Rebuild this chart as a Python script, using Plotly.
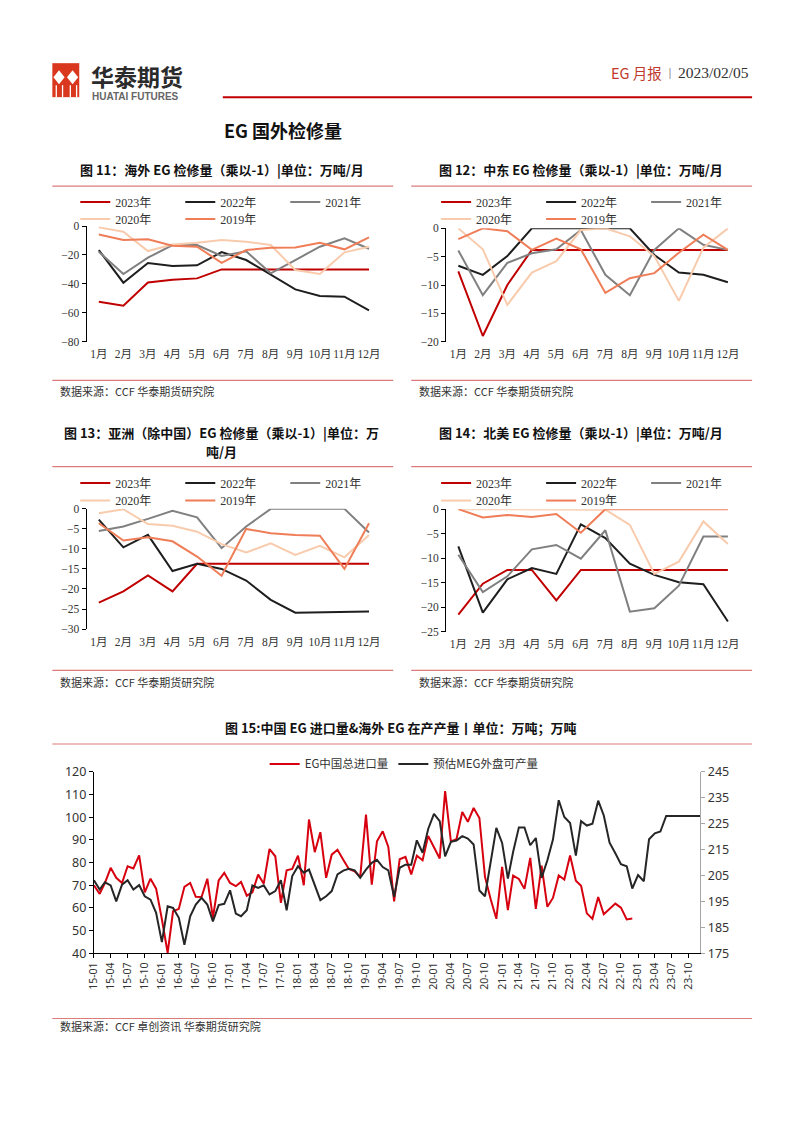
import plotly.graph_objects as go

# page is 802x1133; the html body adds a margin around the figure, so the figure
# is drawn slightly smaller and page coordinates are mapped onto it.
PAGE_W, PAGE_H = 802, 1133
OFF = 8
W, H = PAGE_W - 2 * OFF, PAGE_H - 2 * OFF


def X(px):
    return ((px - 5.6) / 0.993 - OFF) / W


def Y(py):
    return 1 - ((py - 8.9) / 0.9855 - OFF) / H


# ---------------- data ----------------
months = ["1月", "2月", "3月", "4月", "5月", "6月", "7月", "8月", "9月", "10月", "11月", "12月"]
month_idx = [0, 1, 2, 3, 4, 5, 6, 7, 8, 9, 10, 11]
years = ["2023年", "2022年", "2021年", "2020年", "2019年"]

# 图11 海外
os_2023 = [-52.3, -55.1, -39.0, -37.1, -36.2, -30.0, -30.0, -30.0, -30.0, -30.0, -30.0, -30.0]
os_2022 = [-16.6, -39.2, -25.6, -27.7, -27.2, -18.0, -23.5, -33.9, -43.8, -48.4, -48.9, -58.3]
os_2021 = [-17.8, -33.2, -21.9, -13.1, -13.1, -20.7, -17.5, -32.7, -23.5, -14.3, -8.5, -15.7]
os_2020 = [-0.9, -3.9, -17.3, -12.7, -11.5, -9.7, -10.8, -13.1, -30.4, -33.2, -18.2, -14.3]
os_2019 = [-5.8, -9.7, -9.2, -13.6, -14.3, -25.4, -16.6, -15.0, -14.8, -11.5, -16.1, -7.8]

# 图12 中东
me_2023 = [-7.6, -19.0, -10.0, -3.8, -3.8, -3.8, -3.8, -3.8, -3.8, -3.8, -3.8, -3.8]
me_2022 = [-6.6, -8.2, -4.9, 0.0, 0.0, 0.0, 0.0, 0.0, -4.7, -7.8, -8.2, -9.5]
me_2021 = [-3.9, -11.8, -6.1, -4.4, -3.7, -0.3, -8.2, -11.8, -3.8, 0.0, -2.9, -3.8]
me_2020 = [0.0, -3.7, -13.5, -7.8, -5.8, -0.3, 0.0, -1.4, -4.9, -12.8, -3.4, 0.0]
me_2019 = [-1.9, 0.0, -0.5, -3.8, -1.8, -3.7, -11.4, -8.8, -7.9, -4.3, -1.1, -3.8]

# 图13 亚洲（除中国）
as_2023 = [-23.4, -20.6, -16.6, -20.6, -13.7, -13.7, -13.7, -13.7, -13.7, -13.7, -13.7, -13.7]
as_2022 = [-2.7, -9.6, -6.5, -15.5, -13.7, -15.0, -17.9, -22.7, -25.9, -25.8, -25.7, -25.6]
as_2021 = [-5.5, -4.4, -2.5, -0.5, -2.1, -9.8, -4.4, 0.0, 0.0, 0.0, 0.0, -5.9]
as_2020 = [-1.1, -0.1, -3.8, -4.2, -5.7, -8.8, -10.9, -8.6, -11.5, -9.2, -12.1, -6.5]
as_2019 = [-3.6, -7.9, -7.1, -8.1, -11.9, -16.7, -5.0, -6.1, -6.5, -6.7, -15.0, -3.6]

# 图14 北美
na_2023 = [-21.5, -15.2, -12.4, -12.4, -18.6, -12.4, -12.4, -12.4, -12.4, -12.4, -12.4, -12.4]
na_2022 = [-7.6, -21.1, -14.3, -12.0, -13.2, -3.1, -5.9, -11.1, -13.4, -14.9, -15.3, -22.9]
na_2021 = [-9.3, -16.9, -13.7, -8.2, -7.3, -10.1, -4.3, -20.9, -20.2, -15.6, -5.6, -5.6]
na_2020 = [0.0, 0.0, 0.0, 0.0, 0.0, 0.0, -0.1, -3.2, -13.2, -10.7, -2.5, -7.1]
na_2019 = [0.0, -1.7, -1.2, -1.6, -1.0, -4.8, 0.0, 0.0, 0.0, 0.0, 0.0, 0.0]

# 图15 月度
dates_all = [f"{y}-{m:02d}-01" for y in range(2015, 2024) for m in range(1, 13)]
cn_import = [
    70, 66.2, 71, 77.7, 73.3, 71, 78.4, 77.4, 83.2, 66.9,
    72.9, 68.5, 55, 40.2, 58.5, 59.6, 69.3, 71, 64.9, 64.8,
    72.9, 55.6, 72.1, 75.5, 71, 69.6, 71.5, 65.4, 66.9, 74.7,
    70.7, 86, 82.8, 62.2, 76.6, 77.2, 83.1, 70, 99, 84.6,
    93.4, 73.3, 83.5, 85.7, 81.3, 77.2, 76.2, 73.7, 101.2, 70.3,
    89.4, 93.8, 86.9, 62.9, 81.5, 82.5, 74.8, 83, 81, 91.8,
    86.8, 81.8, 111.6, 89.3, 90.3, 102.3, 98, 104.1, 99.7, 73.7,
    63.7, 55.2, 78.1, 59, 74.3, 72.8, 68.4, 82.1, 59.6, 78.7,
    60.5, 64.4, 74.3, 72.5, 83.1, 72, 69.8, 57.6, 55.2, 64.8,
    57.2, 59.7, 61.9, 60.1, 54.9, 55.3,
]
meg_overseas = [
    203.2, 199.6, 202.4, 201.2, 195.0, 201.5, 203.2, 199.6, 201.3, 197.0,
    195.7, 190.6, 179.3, 193.1, 192.5, 188.7, 178.3, 189.3, 193.8, 196.4,
    193.8, 187.3, 193.6, 194.1, 199.3, 190.3, 189.3, 191.6, 201.2,
    200.2, 201.2, 197.7, 199.0, 203.2, 191.6, 204.8, 208.6, 206.1, 207.3,
    201.2, 195.5, 197.0, 199.0, 205.4, 206.9, 207.6, 207.0, 204.1, 207.3,
    209.9, 211.1, 208.3, 207.0, 196.8,
    208.0, 209.2, 209.2, 218.6, 213.8, 223.0,
    228.8, 226.0, 212.4, 218.0, 218.5, 220.2, 219.3, 217.0, 199.2, 197.0,
    210.5, 223.4, 217.6, 203.8, 214.1, 223.6, 223.6, 216.7, 219.5, 204.1,
    210.9, 218.9, 234.1, 227.6, 225.3, 212.7, 226.0, 224.3, 225.0, 233.9,
    228.2,
    217.7, 213.6, 209.4, 208.6, 200.0, 205.2, 202.8, 219.0, 221.3, 222.0,
    228.0, 228.0, 228.0, 228.0, 228.0, 228.0, 228.0,
]
import_name = "EG中国总进口量"
meg_name = "预估MEG外盘可产量"

# ---------------- styles ----------------
year_colors = ["#C00000", "#1E1E1E", "#808080", "#F8CBAD", "#EF7D57"]
SERIF = "Liberation Serif, Noto Sans CJK SC, serif"
SANS = "Noto Sans, Noto Sans CJK SC, sans-serif"
CJK = "Noto Sans CJK SC, sans-serif"
SEP = "#DB7B7B"
TXT = "#333333"

fig = go.Figure()

small_charts = [
    ([os_2023, os_2022, os_2021, os_2020, os_2019], "x", "y", "xaxis6", (84.3, 380), (226.0, 341.7), -80, 20,
     ("legend", "legend2"), (73, 202, 219)),
    ([me_2023, me_2022, me_2021, me_2020, me_2019], "x2", "y2", "xaxis7", (445, 740), (228.3, 341.7), -20, 5,
     ("legend3", "legend4"), (435, 202, 219)),
    ([as_2023, as_2022, as_2021, as_2020, as_2019], "x3", "y3", "xaxis8", (84.3, 380), (509.0, 629.3), -30, 5,
     ("legend5", "legend6"), (73, 483, 500.7)),
    ([na_2023, na_2022, na_2021, na_2020, na_2019], "x4", "y4", "xaxis9", (445, 740), (509.3, 632.0), -25, 5,
     ("legend7", "legend8"), (435, 483, 500.7)),
]

layout_axes = {}
legend_cfgs = {}
for series, xa, ya, ova, (x0, x1), (yt, yb), ymin, dt, (lg1, lg2), (lx, ly1, ly2) in small_charts:
    for k, vals in enumerate(series):
        fig.add_trace(go.Scatter(
            x=month_idx, y=vals, name=years[k], mode="lines",
            line=dict(color=year_colors[k], width=2),
            xaxis=xa, yaxis=ya, legend=lg1 if k < 3 else lg2,
            hoverinfo="skip",
        ))
    xname = "xaxis" if xa == "x" else "xaxis" + xa[1:]
    yname = "yaxis" if ya == "y" else "yaxis" + ya[1:]
    layout_axes[xname] = dict(
        domain=[X(x0), X(x1)], anchor=ya, range=[-0.5, 11.5],
        tickmode="array", tickvals=month_idx, ticktext=months, tickangle=0,
        showline=False, ticks="", showgrid=False, zeroline=False, ticklabelstandoff=4,
        tickfont=dict(family=SERIF, size=11.5, color=TXT), fixedrange=True,
    )
    layout_axes[yname] = dict(
        domain=[Y(yb), Y(yt)], anchor=xa, range=[ymin, 0], dtick=dt,
        showline=True, linecolor="#000000", linewidth=1,
        ticks="outside", ticklen=4, tickcolor="#000000",
        showgrid=False, zeroline=False,
        tickfont=dict(family=SERIF, size=11.5, color=TXT), fixedrange=True,
    )
    layout_axes[ova] = dict(
        overlaying=xa, anchor=ya, side="top", range=[-0.5, 11.5],
        tickmode="array", tickvals=[i - 0.5 for i in range(13)],
        showticklabels=False, showline=True, linecolor="#000000", linewidth=1,
        ticks="inside", ticklen=4, tickcolor="#000000", showgrid=False, zeroline=False,
    )
    for lg, ly in ((lg1, ly1), (lg2, ly2)):
        legend_cfgs[lg] = dict(
            x=X(lx), y=Y(ly), xanchor="left", yanchor="middle", orientation="h",
            entrywidth=60, entrywidthmode="pixels", itemwidth=30,
            font=dict(family=SERIF, size=12, color=TXT),
            bgcolor="rgba(0,0,0,0)", borderwidth=0, tracegroupgap=0, traceorder="normal",
        )

# chart 15
fig.add_trace(go.Scatter(
    x=dates_all[:len(cn_import)], y=cn_import, name=import_name, mode="lines",
    line=dict(color="#D7000F", width=2), xaxis="x5", yaxis="y5", legend="legend9",
    hoverinfo="skip",
))
fig.add_trace(go.Scatter(
    x=dates_all[:len(meg_overseas)], y=meg_overseas, name=meg_name, mode="lines",
    line=dict(color="#262626", width=2), xaxis="x5", yaxis="y6", legend="legend9",
    hoverinfo="skip",
))
layout_axes["xaxis5"] = dict(
    domain=[X(91.7), X(700)], anchor="y5", type="date",
    range=["2015-01-01", "2023-12-01"], dtick="M3", tick0="2015-01-01",
    tickformat="%y-%m", tickangle=-90, ticks="outside", ticklen=4, tickcolor="#000000",
    showline=True, linecolor="#000000", linewidth=1, showgrid=False, zeroline=False,
    tickfont=dict(family=SANS, size=10.5, color=TXT), fixedrange=True,
)
layout_axes["yaxis5"] = dict(
    domain=[Y(953.7), Y(772.3)], anchor="x5", range=[40, 120], dtick=10,
    showline=True, linecolor="#000000", linewidth=1, ticks="outside", ticklen=4,
    tickcolor="#000000", showgrid=False, zeroline=False,
    tickfont=dict(family=SANS, size=12.5, color=TXT), fixedrange=True,
)
layout_axes["yaxis6"] = dict(
    overlaying="y5", side="right", anchor="x5", range=[175, 245], dtick=10, tick0=175,
    showline=True, linecolor="#A6A6A6", linewidth=1, ticks="outside", ticklen=4,
    tickcolor="#A6A6A6", showgrid=False, zeroline=False,
    tickfont=dict(family=SANS, size=12.5, color=TXT), fixedrange=True,
)
legend_cfgs["legend9"] = dict(
    x=X(263), y=Y(764.3), xanchor="left", yanchor="middle", orientation="h",
    itemwidth=30, font=dict(family=CJK, size=11.5, color=TXT),
    bgcolor="rgba(0,0,0,0)", borderwidth=0, traceorder="normal",
)

# ---------------- page decorations ----------------
shapes = []


def hline(x0, x1, y, color, width):
    shapes.append(dict(type="line", xref="paper", yref="paper",
                       x0=X(x0), x1=X(x1), y0=Y(y), y1=Y(y),
                       line=dict(color=color, width=width)))


hline(221, 752, 97, "#C00000", 2)
for yy in (186, 380.5, 466.7, 670.7):
    hline(50, 392, yy, SEP, 1.2)
    hline(410, 752, yy, SEP, 1.2)
hline(50, 752, 744.3, SEP, 1.2)
hline(50, 752, 1019, SEP, 1.2)


def poly(pts, color):
    d = "M" + " L".join(f"{X(a):.5f},{Y(b):.5f}" for a, b in pts) + " Z"
    shapes.append(dict(type="path", xref="paper", yref="paper", path=d,
                       fillcolor=color, line=dict(width=0)))


# logo
poly([(50, 63), (77, 63), (77, 97), (50, 97)], "#D9381E")
poly([(56.7, 70), (62.3, 77), (56.7, 84), (51.1, 77)], "#FFFFFF")
poly([(70.3, 70), (75.9, 77), (70.3, 84), (64.7, 77)], "#FFFFFF")
for bx in (53.3, 59.6, 67.4, 73.7):
    poly([(bx, 85), (bx + 1.3, 85), (bx + 1.3, 97), (bx, 97)], "#FFFFFF")

annotations = []


def text(x, y, s, size, color=TXT, family=CJK, anchor="left", bold=False):
    annotations.append(dict(
        xref="paper", yref="paper", x=X(x), y=Y(y), xanchor=anchor, yanchor="middle",
        text=f"<b>{s}</b>" if bold else s, showarrow=False,
        font=dict(family=family, size=size, color=color),
    ))


text(87, 76, "华泰期货", 23, "#2B2B2B", CJK, bold=True)
text(88, 96, "HUATAI FUTURES", 10, "#666666", "Liberation Sans, sans-serif", bold=True)
text(608, 72, "EG 月报", 14.5, "#C0392B", CJK)
text(662, 72, "丨", 12, "#999999", CJK)
text(676, 72, "2023/02/05", 15.5, TXT, SERIF)
text(220, 130, "EG 国外检修量", 18, "#111111", CJK, bold=True)

text(220, 169, "图 11：海外 EG 检修量（乘以-1）|单位：万吨/月", 13, "#111111", CJK, "center", True)
text(580, 169, "图 12：中东 EG 检修量（乘以-1）|单位：万吨/月", 13, "#111111", CJK, "center", True)
text(220, 433, "图 13：亚洲（除中国）EG 检修量（乘以-1）|单位：万", 13, "#111111", CJK, "center", True)
text(220, 452, "吨/月", 13, "#111111", CJK, "center", True)
text(580, 433, "图 14：北美 EG 检修量（乘以-1）|单位：万吨/月", 13, "#111111", CJK, "center", True)
text(400, 728, "图 15:中国 EG 进口量&海外 EG 在产产量丨单位：万吨；万吨", 13, "#111111", CJK, "center", True)

src = "数据来源：CCF 华泰期货研究院"
text(56, 391, src, 11, TXT, CJK)
text(416, 391, src, 11, TXT, CJK)
text(56, 682, src, 11, TXT, CJK)
text(416, 682, src, 11, TXT, CJK)
text(56, 1027, "数据来源：CCF 卓创资讯 华泰期货研究院", 11, TXT, CJK)

fig.update_layout(
    width=W, height=H, margin=dict(l=0, r=0, t=0, b=0),
    paper_bgcolor="#FFFFFF", plot_bgcolor="rgba(0,0,0,0)",
    shapes=shapes, annotations=annotations, hovermode=False,
    **layout_axes, **legend_cfgs,
)

fig.write_html("out.html", config={"displayModeBar": False})
